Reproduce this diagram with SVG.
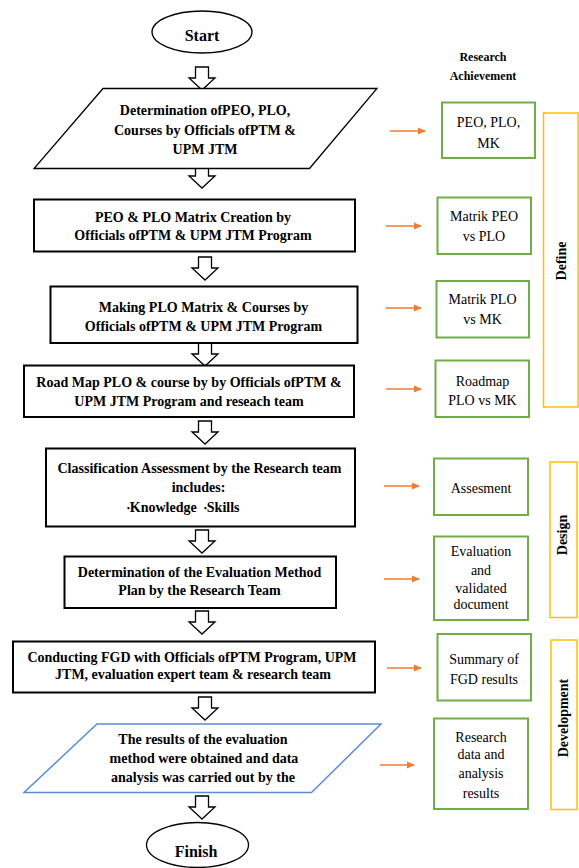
<svg xmlns="http://www.w3.org/2000/svg" width="579" height="868" viewBox="0 0 579 868">
<style>
.bg{fill:#fff}
.term{fill:#fff;stroke:#000;stroke-width:1.3}
.proc{fill:#fff;stroke:#000;stroke-width:2}
.para{fill:#fff;stroke:#000;stroke-width:1.3}
.para2{fill:#fff;stroke:#5B8BD5;stroke-width:1.5}
.res{fill:#fff;stroke:#70AD47;stroke-width:2}
.phase{fill:none;stroke:#FFC000;stroke-width:1.5}
.t{font-family:"Liberation Serif","Times New Roman",serif;font-weight:bold;font-size:14px;fill:#000;text-anchor:middle}
.tt{font-family:"Liberation Serif","Times New Roman",serif;font-weight:bold;font-size:16px;fill:#000;text-anchor:middle}
.r{font-family:"Liberation Serif","Times New Roman",serif;font-size:14px;fill:#000;text-anchor:middle}
.h{font-family:"Liberation Serif","Times New Roman",serif;font-weight:bold;font-size:12px;fill:#000;text-anchor:middle}
.ph{font-family:"Liberation Serif","Times New Roman",serif;font-weight:bold;font-size:14px;fill:#000;text-anchor:middle}
.ha{fill:#fff;stroke:#000;stroke-width:1.3;stroke-linejoin:miter}
.oa{stroke:#ED7D31;stroke-width:1.6;fill:none}
</style>
<defs>
<path id="hollow" d="M-6.5,0 H6.5 V11 H13 L0,23 L-13,11 H-6.5 Z"/>
<marker id="oh" markerWidth="8" markerHeight="8" refX="7" refY="4" orient="auto" markerUnits="userSpaceOnUse">
<path d="M0,0.5 L8,4 L0,7.5 Z" fill="#ED7D31"/>
</marker>
</defs>
<rect class="bg" x="0" y="0" width="579" height="868"/>

<g id="connectors">
<use href="#hollow" class="ha" x="202" y="67"/>
<use href="#hollow" class="ha" x="202" y="165"/>
<use href="#hollow" class="ha" x="205" y="257"/>
<use href="#hollow" class="ha" x="205" y="343"/>
<use href="#hollow" class="ha" x="205" y="421"/>
<use href="#hollow" class="ha" x="202" y="530"/>
<use href="#hollow" class="ha" x="202" y="611"/>
<use href="#hollow" class="ha" x="205" y="697"/>
<use href="#hollow" class="ha" x="202" y="796"/>
<line class="oa" x1="390" y1="131" x2="425" y2="131" marker-end="url(#oh)"/>
<line class="oa" x1="386" y1="226" x2="421" y2="226" marker-end="url(#oh)"/>
<line class="oa" x1="386" y1="308" x2="421" y2="308" marker-end="url(#oh)"/>
<line class="oa" x1="386" y1="389" x2="421" y2="389" marker-end="url(#oh)"/>
<line class="oa" x1="384" y1="486" x2="419" y2="486" marker-end="url(#oh)"/>
<line class="oa" x1="384" y1="579" x2="419" y2="579" marker-end="url(#oh)"/>
<line class="oa" x1="387" y1="668" x2="421" y2="668" marker-end="url(#oh)"/>
<line class="oa" x1="380" y1="765" x2="414" y2="765" marker-end="url(#oh)"/>
</g>

<g id="start">
<ellipse class="term" cx="202" cy="32" rx="50" ry="21"/>
<text class="tt" x="202" y="41">Start</text>
</g>

<g id="header">
<text class="h" x="483" y="61">Research</text>
<text class="h" x="483" y="80">Achievement</text>
</g>

<g id="n1">
<polygon class="para" points="103,88.5 377,88.5 309.5,168.5 34,168.5"/>
<text class="t" x="205" y="115">Determination ofPEO, PLO,</text>
<text class="t" x="205" y="134.5">Courses by Officials ofPTM &amp;</text>
<text class="t" x="205" y="153.5">UPM JTM</text>
</g>

<g id="n2">
<rect class="proc" x="34" y="199.5" width="321" height="52"/>
<text class="t" x="193" y="221.5">PEO &amp; PLO Matrix Creation by</text>
<text class="t" x="193" y="240">Officials ofPTM &amp; UPM JTM Program</text>
</g>

<g id="n3">
<rect class="proc" x="50.5" y="286.5" width="307" height="56.5"/>
<text class="t" x="203.5" y="311.5">Making PLO Matrix &amp; Courses by</text>
<text class="t" x="203.5" y="331">Officials ofPTM &amp; UPM JTM Program</text>
</g>

<g id="n4">
<rect class="proc" x="24" y="365.5" width="330" height="51.5"/>
<text class="t" x="189" y="386.5">Road Map PLO &amp; course by by Officials ofPTM &amp;</text>
<text class="t" x="189" y="405.5">UPM JTM Program and reseach team</text>
</g>

<g id="n5">
<rect class="proc" x="46" y="448.5" width="309" height="78"/>
<text class="t" x="199.5" y="473">Classification Assessment by the Research team</text>
<text class="t" x="198.5" y="491.5">includes:</text>
<text class="t" x="127" y="511.5" style="text-anchor:start"><tspan font-size="8" dy="-1">•</tspan><tspan dy="1">Knowledge</tspan></text>
<text class="t" x="204" y="511.5" style="text-anchor:start"><tspan font-size="8" dy="-1">•</tspan><tspan dy="1">Skills</tspan></text>
</g>

<g id="n6">
<rect class="proc" x="64.5" y="556.5" width="271.5" height="51.5"/>
<text class="t" x="199.5" y="576.5">Determination of the Evaluation Method</text>
<text class="t" x="199.5" y="595">Plan by  the Research Team</text>
</g>

<g id="n7">
<rect class="proc" x="13" y="641.5" width="362" height="51"/>
<text class="t" x="192" y="661.5">Conducting FGD with Officials ofPTM Program, UPM</text>
<text class="t" x="193" y="678.5">JTM, evaluation expert team &amp; research team</text>
</g>

<g id="n8">
<polygon class="para2" points="97,724 381,724 311.5,792.5 24,792.5"/>
<text class="t" x="203" y="744">The results of the evaluation</text>
<text class="t" x="204" y="763">method were  obtained and data</text>
<text class="t" x="203" y="781.5">analysis was carried out by the</text>
</g>

<g id="finish">
<ellipse class="term" cx="197.5" cy="845" rx="51" ry="22.5"/>
<text class="tt" x="196" y="857">Finish</text>
</g>

<g id="r1">
<rect class="res" x="442" y="102.5" width="93" height="55.5"/>
<text class="r" x="488.5" y="126.5">PEO, PLO,</text>
<text class="r" x="488.5" y="148">MK</text>
</g>
<g id="r2">
<rect class="res" x="437.5" y="197.5" width="93.5" height="56.5"/>
<text class="r" x="484" y="221">Matrik PEO</text>
<text class="r" x="484" y="240.5">vs PLO</text>
</g>
<g id="r3">
<rect class="res" x="436.5" y="281" width="92.5" height="56.5"/>
<text class="r" x="482.5" y="304">Matrik PLO</text>
<text class="r" x="482.5" y="324">vs MK</text>
</g>
<g id="r4">
<rect class="res" x="435.5" y="360.5" width="93.5" height="56.5"/>
<text class="r" x="482.5" y="385.5">Roadmap</text>
<text class="r" x="482.5" y="405">PLO vs MK</text>
</g>
<g id="r5">
<rect class="res" x="434" y="458.5" width="94" height="56.5"/>
<text class="r" x="481" y="493">Assesment</text>
</g>
<g id="r6">
<rect class="res" x="434" y="536.5" width="94" height="83.5"/>
<text class="r" x="481" y="556">Evaluation</text>
<text class="r" x="481" y="575">and</text>
<text class="r" x="481" y="592.5">validated</text>
<text class="r" x="481" y="609">document</text>
</g>
<g id="r7">
<rect class="res" x="437.5" y="634" width="93.5" height="66.5"/>
<text class="r" x="484" y="664">Summary of</text>
<text class="r" x="484" y="684">FGD results</text>
</g>
<g id="r8">
<rect class="res" x="434" y="718.5" width="94" height="90.5"/>
<text class="r" x="481" y="742">Research</text>
<text class="r" x="481" y="759">data and</text>
<text class="r" x="481" y="778">analysis</text>
<text class="r" x="481" y="798">results</text>
</g>

<g id="define">
<rect class="phase" x="543.5" y="113" width="34.5" height="294"/>
<text class="ph" transform="translate(566,261) rotate(-90)">Define</text>
</g>
<g id="design">
<rect class="phase" x="550" y="462" width="27" height="155.5"/>
<text class="ph" transform="translate(567,535) rotate(-90)">Design</text>
</g>
<g id="development">
<rect class="phase" x="551" y="640" width="26" height="169.5"/>
<text class="ph" transform="translate(568,718) rotate(-90)">Development</text>
</g>
</svg>
